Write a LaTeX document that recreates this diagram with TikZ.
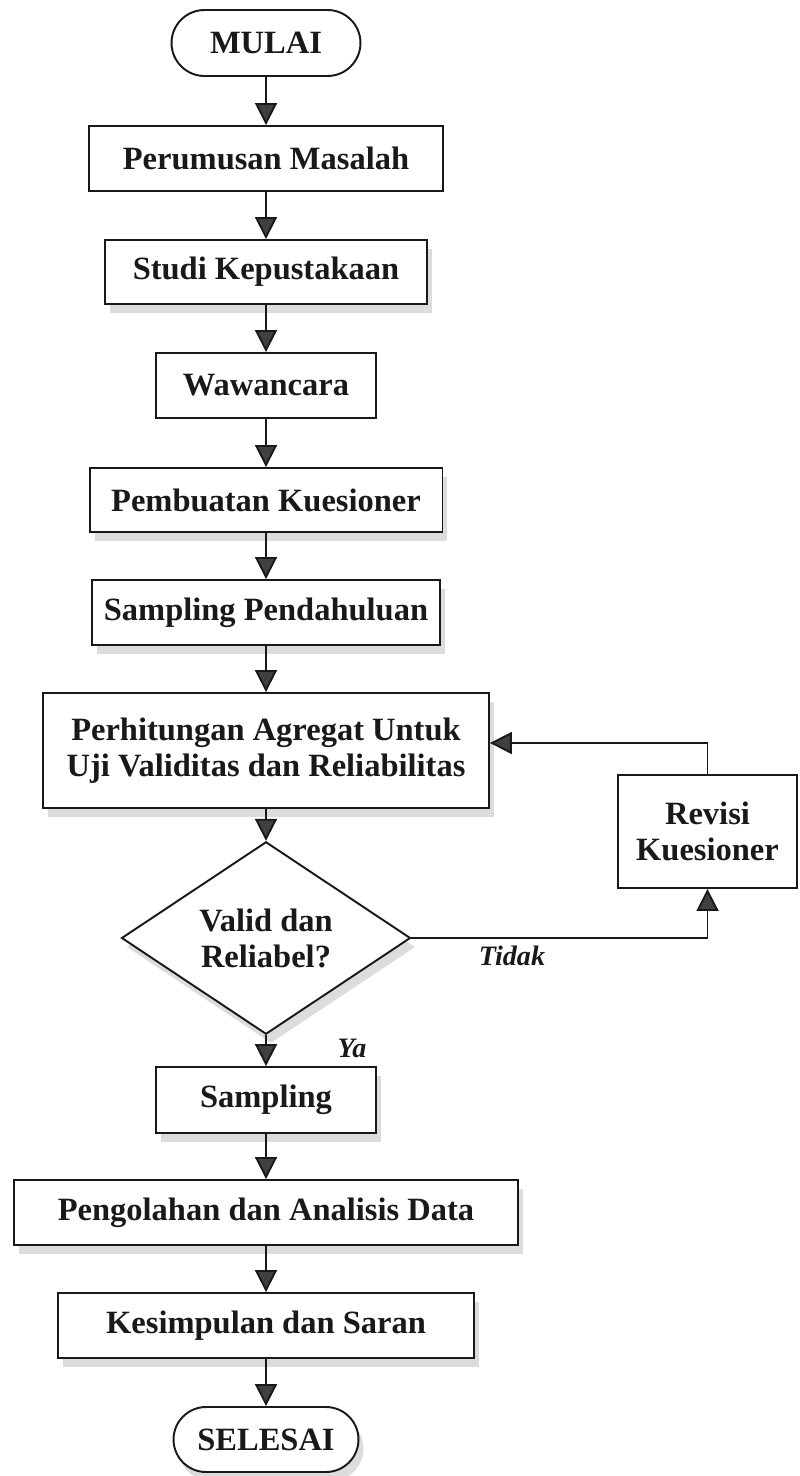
\documentclass[tikz,border=0pt]{standalone}
\usepackage{fontspec}
\setmainfont{Liberation Serif}
\usetikzlibrary{
  arrows.meta,
  shapes.geometric,
  shapes.misc,
  shadows}

\tikzset{
  kotak/.style={draw=black!90, line width=1.1pt, fill=white, inner sep=2pt,
    align=center, text=black!90, font=\fontsize{18.5}{20.5}\selectfont\bfseries},
  ujung/.style={kotak, rounded rectangle},
  putusan/.style={kotak, diamond, inner sep=0pt},
  bayang/.style={drop shadow={shadow xshift=0.1cm, shadow yshift=-0.18cm,
    fill=black!30, opacity=0.45}},
  panah/.style={draw=black!90, line width=1.1pt,
    -{Triangle[length=0.44cm,width=0.44cm,fill=black!75]}},
  ket/.style={font=\fontsize{16}{18}\selectfont\bfseries\itshape, text=black!90}
}

\begin{document}
\begin{tikzpicture}[x=0.02cm,y=-0.02cm]
            \useasboundingbox (0,0) rectangle (799,1476);
            % alur utama
            \node[ujung, minimum width=3.92cm, minimum height=1.32cm] (mulai) at (266,43) {MULAI};
            \node[kotak, minimum width=7.08cm, minimum height=1.3cm] (rumus) at (266,158.5) {Perumusan Masalah};
            \node[kotak, bayang, minimum width=6.44cm, minimum height=1.28cm] (studi) at (266,272) {Studi Kepustakaan};
            \node[kotak, minimum width=4.4cm, minimum height=1.3cm] (wawan) at (266,385.5) {Wawancara};
            \node[kotak, bayang, minimum width=7.06cm, minimum height=1.28cm] (buat) at (266,500) {Pembuatan Kuesioner};
            \node[kotak, bayang, minimum width=6.96cm, minimum height=1.3cm] (pendahuluan) at (266,612.5) {Sampling Pendahuluan};
            \node[kotak, bayang, minimum width=8.92cm, minimum height=2.3cm] (hitung) at (266,750.5) {Perhitungan Agregat Untuk\\Uji Validitas dan Reliabilitas};
            \node[kotak, minimum width=3.58cm, minimum height=2.26cm] (revisi) at (707.5,831.5) {Revisi\\Kuesioner};
            \node[putusan, bayang, minimum width=5.78cm, minimum height=3.2cm] (cek) at (266,938) {Valid dan\\Reliabel?};
            \node[kotak, bayang, minimum width=4.4cm, minimum height=1.32cm] (sampling) at (266,1100) {Sampling};
            \node[kotak, bayang, minimum width=10.08cm, minimum height=1.3cm] (olah) at (266,1212.5) {Pengolahan dan Analisis Data};
            \node[kotak, bayang, minimum width=8.32cm, minimum height=1.3cm] (simpul) at (266,1325.5) {Kesimpulan dan Saran};
            \node[ujung, bayang, minimum width=3.84cm, minimum height=1.3cm] (selesai) at (266,1439.5) {SELESAI};
            % panah
            \draw[panah] (mulai) -- (rumus);
            \draw[panah] (rumus) -- (studi);
            \draw[panah] (studi) -- (wawan);
            \draw[panah] (wawan) -- (buat);
            \draw[panah] (buat) -- (pendahuluan);
            \draw[panah] (pendahuluan) -- (hitung);
            \draw[panah] (hitung) -- (cek);
            \draw[panah] (cek) -- (sampling);
            \draw[panah] (sampling) -- (olah);
            \draw[panah] (olah) -- (simpul);
            \draw[panah] (simpul) -- (selesai);
            % umpan balik
            \draw[panah] (cek.east) -| (revisi.south);
            \draw[panah] (revisi.north) |- ([yshift=0.15cm]hitung.east);
            \node[ket] (tidak) at (512,956) {Tidak};
            \node[ket] (ya) at (352,1048) {Ya};
        \end{tikzpicture}
\end{document}
